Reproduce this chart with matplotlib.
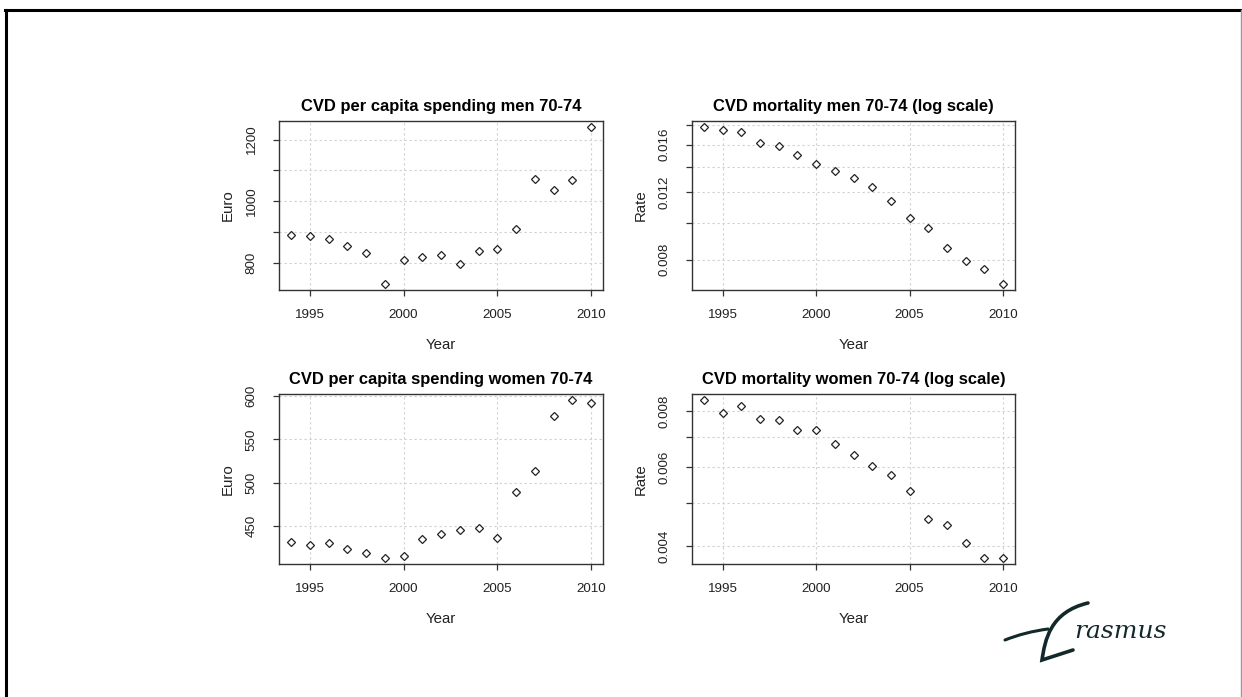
import matplotlib.pyplot as plt
import matplotlib.ticker as mticker
from matplotlib.path import Path
from matplotlib.patches import PathPatch
from matplotlib.lines import Line2D

plt.rcParams['font.family'] = ['Liberation Sans', 'DejaVu Sans']

# Data
years = [1994, 1995, 1996, 1997, 1998, 1999, 2000, 2001, 2002,
         2003, 2004, 2005, 2006, 2007, 2008, 2009, 2010]

spend_men = [891, 885, 875, 855, 831, 731, 808, 818, 825,
             795, 838, 844, 909, 1072, 1036, 1069, 1240]
mort_men = [0.01775, 0.0175, 0.01726, 0.01616, 0.01584, 0.01498, 0.01425,
            0.01364, 0.01308, 0.01237, 0.01136, 0.01028, 0.00967, 0.00859,
            0.00792, 0.00758, 0.00692]
spend_women = [431.5, 428, 430, 423, 418.5, 413.5, 416, 435, 441,
               446, 448, 436, 489, 513, 577, 595, 591.5]
mort_women = [0.00845, 0.00791, 0.00822, 0.00767, 0.00763, 0.00727, 0.00727,
              0.00676, 0.00637, 0.00604, 0.00575, 0.00532, 0.00459, 0.00445,
              0.00406, 0.00377, 0.00377]

titles = ["CVD per capita spending men 70-74",
          "CVD mortality men 70-74 (log scale)",
          "CVD per capita spending women 70-74",
          "CVD mortality women 70-74 (log scale)"]
ylabels = ["Euro", "Rate", "Euro", "Rate"]
x_ticks = [1995, 2000, 2005, 2010]
y_ticks = [[800, 900, 1000, 1100, 1200],
           [0.008, 0.010, 0.012, 0.014, 0.016, 0.018],
           [450, 500, 550, 600],
           [0.004, 0.005, 0.006, 0.007, 0.008]]
y_labels = [["800", "", "1000", "", "1200"],
            ["0.008", "", "0.012", "", "0.016", ""],
            ["450", "500", "550", "600"],
            ["0.004", "", "0.006", "", "0.008"]]
series = [spend_men, mort_men, spend_women, mort_women]
logscale = [False, True, False, True]

W, H = 1242, 697
fig = plt.figure(figsize=(W / 100, H / 100), dpi=100)

# axes boxes in pixels: left, top, right, bottom
boxes = [(279, 121, 603, 290), (692, 121, 1015, 290),
         (279, 394, 603, 564), (692, 394, 1015, 564)]

for i in range(4):
    l, t, r, b = boxes[i]
    ax = fig.add_axes([l / W, 1 - b / H, (r - l) / W, (b - t) / H])
    if logscale[i]:
        ax.set_yscale('log')
    ax.margins(0.04)
    ax.plot(years, series[i], linestyle='none', marker='D', markersize=4.5,
            markerfacecolor='white', markeredgecolor='#222222',
            markeredgewidth=0.9, zorder=3)
    ax.set_xticks(x_ticks)
    ax.yaxis.set_major_locator(mticker.FixedLocator(y_ticks[i]))
    ax.yaxis.set_major_formatter(mticker.FixedFormatter(y_labels[i]))
    ax.yaxis.set_minor_locator(mticker.NullLocator())
    ax.grid(True, color='#d0d0d0', linestyle=(0, (2, 2.5)), linewidth=0.8)
    ax.set_axisbelow(True)
    for s in ax.spines.values():
        s.set_color('#333333')
        s.set_linewidth(1.0)
    ax.tick_params(axis='x', direction='out', length=4, width=0.9,
                   pad=10, labelsize=9.6, colors='#333333', labelcolor='#222222')
    ax.tick_params(axis='y', direction='out', length=4, width=0.9,
                   pad=11.5, labelsize=9.6, colors='#333333', labelcolor='#222222')
    for lab in ax.get_yticklabels():
        lab.set_rotation(90)
        lab.set_va('center')
    ax.set_title(titles[i], fontsize=11.9, fontweight='bold', pad=7)
    ax.set_xlabel("Year", fontsize=10.8, labelpad=12, color='#222222')
    ax.set_ylabel(ylabels[i], fontsize=10.8, labelpad=8, color='#222222')


def px(x, y):
    return (x / W, 1 - y / H)


# slide frame
fig.add_artist(Line2D([px(5, 0)[0], 1], [px(0, 10)[1]] * 2,
                      color='black', linewidth=2.2))
fig.add_artist(Line2D([px(6, 0)[0]] * 2, [px(0, 10)[1], 0],
                      color='black', linewidth=2.2))
fig.add_artist(Line2D([px(1241, 0)[0]] * 2, [px(0, 10)[1], 0],
                      color='#999999', linewidth=1.0))

# signature-style logo
logo = '#12282a'
swoosh = Path([px(1005, 640), px(1025, 632), px(1048, 629)],
              [Path.MOVETO, Path.CURVE3, Path.CURVE3])
big_e = Path([px(1088, 603), px(1050, 612), px(1045, 640),
              px(1042, 660), px(1073, 650)],
             [Path.MOVETO, Path.CURVE4, Path.CURVE4, Path.CURVE4, Path.LINETO])
for p, w in [(swoosh, 2.2), (big_e, 2.6)]:
    fig.add_artist(PathPatch(p, facecolor='none', edgecolor=logo,
                             linewidth=w, transform=fig.transFigure,
                             capstyle='round'))
fig.text(px(1074, 0)[0], px(0, 638)[1], "rasmus", fontsize=18,
         style='italic', family='DejaVu Serif', color=logo, va='baseline')

fig.savefig("out.png", dpi=100)
